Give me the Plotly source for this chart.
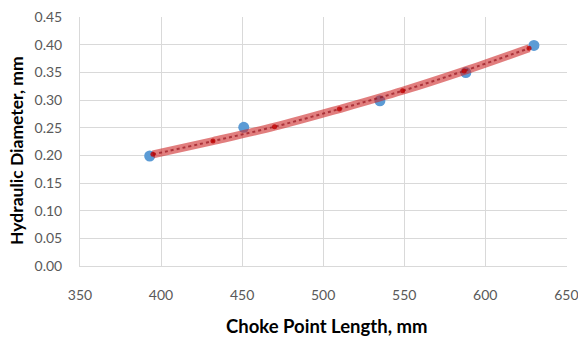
import plotly.graph_objects as go

choke_length = [393, 451, 535, 588, 630]
hyd_diameter = [0.199, 0.251, 0.299, 0.350, 0.399]

trend_x = [395, 432, 470, 510, 549, 587, 627]
trend_y = [0.202, 0.226, 0.252, 0.284, 0.317, 0.353, 0.394]

x_ticks = [350, 400, 450, 500, 550, 600, 650]
y_ticks = [0.00, 0.05, 0.10, 0.15, 0.20, 0.25, 0.30, 0.35, 0.40, 0.45]

fig = go.Figure()
fig.add_trace(go.Scatter(
    x=choke_length, y=hyd_diameter, mode="markers",
    marker=dict(color="#5b9bd5", size=11), showlegend=False))
fig.add_trace(go.Scatter(
    x=trend_x, y=trend_y, mode="lines", line=dict(color="rgba(205,40,40,0.6)", width=8, shape="spline"),
    showlegend=False))
fig.add_trace(go.Scatter(
    x=trend_x, y=trend_y, mode="lines+markers",
    line=dict(color="rgba(150,20,30,0.7)", width=2, dash="dot", shape="spline"),
    marker=dict(color="rgba(190,0,0,0.8)", size=5),
    showlegend=False))

tick_font = dict(family="Lato, Open Sans, sans-serif", size=14, color="#595959")
xtitle_font = dict(family="Lato, Open Sans, sans-serif", size=18.5, color="#000000")
ytitle_font = dict(family="Lato, Open Sans, sans-serif", size=17.5, color="#000000")

fig.update_layout(
    width=578, height=338,
    margin=dict(l=80, r=11, t=17, b=72),
    paper_bgcolor="white", plot_bgcolor="white",
    xaxis=dict(range=[350, 650.4], tickvals=x_ticks, ticktext=[str(v) for v in x_ticks],
               showgrid=True, gridcolor="#d9d9d9", gridwidth=1,
               showline=True, linecolor="#d9d9d9", linewidth=1, automargin=False,
               zeroline=False, tickfont=tick_font, ticks="", ticklabelstandoff=16,
               ticklabeloverflow="allow"),
    yaxis=dict(range=[0, 0.4505], tickvals=y_ticks, ticktext=[f"{v:.2f}" for v in y_ticks],
               showgrid=True, gridcolor="#d9d9d9", gridwidth=1,
               showline=True, linecolor="#d9d9d9", linewidth=1, automargin=False,
               zeroline=False, tickfont=tick_font, ticks="", ticklabelstandoff=14,
               ticklabeloverflow="allow"),
    annotations=[
        dict(text="<b>Choke Point Length, mm</b>", xref="paper", yref="paper",
             x=0.507, y=-0.241, xanchor="center", yanchor="middle", showarrow=False,
             font=xtitle_font),
        dict(text="<b>Hydraulic Diameter, mm</b>", xref="paper", yref="paper",
             x=-0.1294, y=0.466, xanchor="center", yanchor="middle", showarrow=False,
             textangle=-90, font=ytitle_font),
    ],
)

fig.write_html("out.html", config={"displayModeBar": False},
               post_script="document.body.style.margin='0';")
